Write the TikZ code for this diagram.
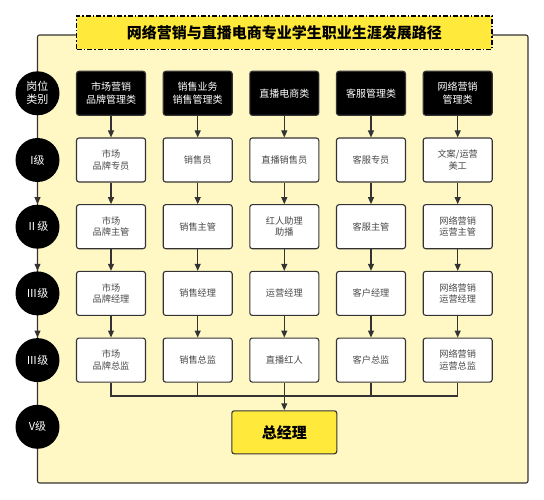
\documentclass[tikz,border=0pt]{standalone}
\usepackage{fontspec}
\setmainfont{Noto Sans CJK SC}
\usetikzlibrary{arrows.meta,positioning}
\definecolor{framefill}{HTML}{FFF8C5}
\definecolor{titlefill}{HTML}{FFE93B}
\definecolor{linegray}{HTML}{333333}
\definecolor{textgray}{HTML}{4A4A4A}

\begin{document}
\begin{tikzpicture}
[->,>={Triangle[length=7pt,width=6pt]}, x=1pt, y=-1pt, node distance=66.7pt,
line width=1.1pt, draw=linegray,
every edge/.style={draw=linegray, line width=1.1pt},
frame/.style={draw=linegray, fill=framefill, rounded corners=2pt, minimum width=490.5pt, minimum height=448pt, inner sep=0pt},
headline/.style={draw=black, fill=titlefill, dash pattern=on 5pt off 2pt on 1.5pt off 2pt, minimum width=415.5pt, minimum height=33.5pt, font=\bfseries\fontsize{15pt}{18pt}\selectfont},
level/.style={circle, fill=black, minimum size=44pt, inner sep=0pt, text=white, align=center, font=\fontsize{11pt}{13pt}\selectfont},
category/.style={draw=linegray, fill=black, rounded corners=2.5pt, minimum width=69pt, minimum height=44pt, inner sep=1pt, text=white, align=center, font=\fontsize{10pt}{13.4pt}\selectfont},
post/.style={draw=linegray, fill=white, rounded corners=2.5pt, minimum width=69pt, minimum height=44pt, inner sep=1pt, text=textgray, align=center, font=\fontsize{9.2pt}{11.5pt}\selectfont},
boss/.style={draw=linegray, fill=titlefill, rounded corners=2.5pt, minimum width=105pt, minimum height=43pt, font=\bfseries\fontsize{15pt}{18pt}\selectfont}
]
  \useasboundingbox (0,0) rectangle (544,500);
  \node[frame]    (frame) at (282.75,259) {};
  \node[headline] (title) at (284.25,32.75) {网络营销与直播电商专业学生职业生涯发展路径};

  % levels on the left edge
  \node[level] (lv0) at (37.5,93.3) {岗位\\类别};
  \node[level] (lv1) [below of=lv0] {I级};
  \node[level] (lv2) [below of=lv1] {Ⅱ级};
  \node[level] (lv3) [below of=lv2] {Ⅲ级};
  \node[level] (lv4) [below of=lv3] {Ⅲ级};
  \node[level] (lv5) [below of=lv4] {V级};

  % categories
  \node[category] (mkt0)  at (111,93.3)   {市场营销\\品牌管理类};
  \node[category] (sal0)  at (197.7,93.3) {销售业务\\销售管理类};
  \node[category] (live0) at (284.3,93.3) {直播电商类};
  \node[category] (svc0)  at (371,93.3)   {客服管理类};
  \node[category] (net0)  at (457.7,93.3) {网络营销\\管理类};

  \node[post] (mkt1)  [below of=mkt0]  {市场\\品牌专员};
  \node[post] (sal1)  [below of=sal0]  {销售员};
  \node[post] (live1) [below of=live0] {直播销售员};
  \node[post] (svc1)  [below of=svc0]  {客服专员};
  \node[post] (net1)  [below of=net0]  {文案/运营\\美工};

  \node[post] (mkt2)  [below of=mkt1]  {市场\\品牌主管};
  \node[post] (sal2)  [below of=sal1]  {销售主管};
  \node[post] (live2) [below of=live1] {红人助理\\助播};
  \node[post] (svc2)  [below of=svc1]  {客服主管};
  \node[post] (net2)  [below of=net1]  {网络营销\\运营主管};

  \node[post] (mkt3)  [below of=mkt2]  {市场\\品牌经理};
  \node[post] (sal3)  [below of=sal2]  {销售经理};
  \node[post] (live3) [below of=live2] {运营经理};
  \node[post] (svc3)  [below of=svc2]  {客户经理};
  \node[post] (net3)  [below of=net2]  {网络营销\\运营经理};

  \node[post] (mkt4)  [below of=mkt3]  {市场\\品牌总监};
  \node[post] (sal4)  [below of=sal3]  {销售总监};
  \node[post] (live4) [below of=live3] {直播红人};
  \node[post] (svc4)  [below of=svc3]  {客户总监};
  \node[post] (net4)  [below of=net3]  {网络营销\\运营总监};

  \node[boss] (gm) at (284.3,432.3) {总经理};
  \coordinate (join) at (284.3,396);

  \path
    (lv1) edge (lv2)
    (lv2) edge (lv3)
    (lv3) edge (lv4)
    (mkt0) edge (mkt1)   (mkt1) edge (mkt2)   (mkt2) edge (mkt3)   (mkt3) edge (mkt4)
    (sal0) edge (sal1)   (sal1) edge (sal2)   (sal2) edge (sal3)   (sal3) edge (sal4)
    (live0) edge (live1) (live1) edge (live2) (live2) edge (live3) (live3) edge (live4)
    (svc0) edge (svc1)   (svc1) edge (svc2)   (svc2) edge (svc3)   (svc3) edge (svc4)
    (net0) edge (net1)   (net1) edge (net2)   (net2) edge (net3)   (net3) edge (net4)
    ;
  \draw[-] (mkt4) |- (join);
  \draw[-] (sal4) |- (join);
  \draw[-] (svc4) |- (join);
  \draw[-] (net4) |- (join);
  \draw (live4) -- (gm);
\end{tikzpicture}
\end{document}
